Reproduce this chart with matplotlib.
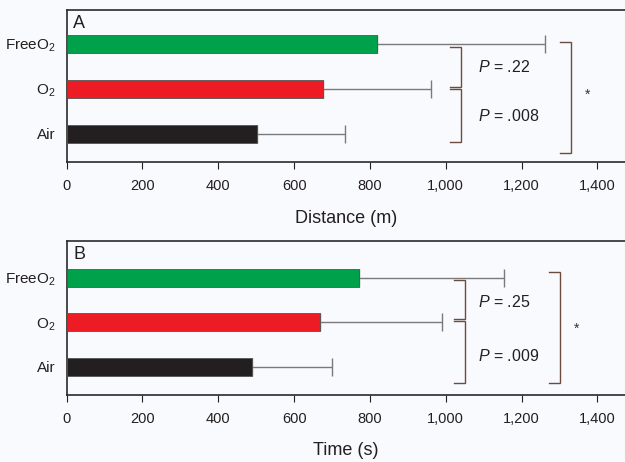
import matplotlib
matplotlib.use('Agg')
import matplotlib.pyplot as plt
from matplotlib.ticker import FuncFormatter

plt.rcParams['font.family'] = ['Liberation Sans', 'DejaVu Sans']
plt.rcParams['mathtext.fontset'] = 'custom'
plt.rcParams['mathtext.rm'] = 'Liberation Sans'
plt.rcParams['mathtext.it'] = 'Liberation Sans:italic'

groups = ['Air', 'O$_2$', 'FreeO$_2$']
colors = ['#231f20', '#ed1c24', '#00a14b']

# panel A: distance (m)
dist_mean = [501, 677, 819]
dist_upper = [734, 960, 1262]
# panel B: time (s)
time_mean = [490, 668, 770]
time_upper = [701, 991, 1154]

p_labels_a = ['.22', '.008']
p_labels_b = ['.25', '.009']

bg = '#f9fafd'
bracket_col = '#6b4c3e'
err_col = '#7a7a7a'

fig = plt.figure(figsize=(6.25, 4.62), dpi=100, facecolor=bg)
axA = fig.add_axes([0.1067, 0.6483, 0.8933, 0.3311])
axB = fig.add_axes([0.1067, 0.145, 0.8933, 0.3334])


def bracket(ax, x, y0, y1, arm):
    ax.plot([x - arm, x, x, x - arm], [y0, y0, y1, y1], color=bracket_col, lw=1.0,
            solid_joinstyle='miter', clip_on=False)


def draw(ax, means, uppers, letter, xlabel, ylim, sm, big, star, ptxt, pys):
    ax.set_facecolor(bg)
    ypos = list(range(len(groups)))
    err = [u - m for u, m in zip(uppers, means)]
    ax.errorbar(means, ypos, xerr=[[0] * len(means), err], fmt='none', ecolor=err_col,
                elinewidth=1.0, capsize=6.5, capthick=1.0, zorder=2)
    ax.barh(ypos, means, height=0.4, color=colors, edgecolor='#555555', linewidth=0.6, zorder=3)
    ax.set_xlim(0, 1473)
    ax.set_ylim(*ylim)
    ax.set_xticks([0, 200, 400, 600, 800, 1000, 1200, 1400])
    ax.xaxis.set_major_formatter(FuncFormatter(lambda v, p: '{:,}'.format(int(v))))
    ax.set_yticks(ypos)
    ax.set_yticklabels(groups)
    ax.tick_params(axis='y', length=0, pad=8, labelsize=11, colors='#231f20')
    ax.tick_params(axis='x', length=5, width=0.8, pad=7, labelsize=10.5, colors='#231f20',
                   direction='out')
    ax.spines['right'].set_visible(False)
    for s in ['top', 'left', 'bottom']:
        ax.spines[s].set_linewidth(1.2)
        ax.spines[s].set_color('#2a2a2a')
    ax.set_xlabel(xlabel, fontsize=13, labelpad=12, color='#231f20')
    ax.text(0.012, 0.965, letter, transform=ax.transAxes, fontsize=13, va='top', ha='left',
            color='#231f20')
    # significance brackets
    bracket(ax, sm[0], sm[2], sm[3], sm[1])
    bracket(ax, sm[0], sm[4], sm[5], sm[1])
    bracket(ax, big[0], big[2], big[3], big[1])
    ax.text(star[0], star[1], '*', fontsize=10, ha='left', va='center', color='#333333')
    for t, y in zip(ptxt, pys):
        ax.text(1085, y, r'$\mathit{P}$ = ' + t, fontsize=11.5, ha='left', va='center',
                color='#231f20')


draw(axA, dist_mean, dist_upper, 'A', 'Distance (m)', (-0.644, 2.756),
     (1040, 29, 1.918, 1.044, 1.0, -0.193), (1330, 28, 2.03, -0.438), (1368, 0.87),
     p_labels_a, [1.47, 0.40])
draw(axB, time_mean, time_upper, 'B', 'Time (s)', (-0.636, 2.825),
     (1051, 28, 1.953, 1.07, 1.034, -0.373), (1302, 29, 2.12, -0.373), (1337, 0.85),
     p_labels_b, [1.46, 0.24])

fig.savefig('out.png', dpi=100, facecolor=bg)
